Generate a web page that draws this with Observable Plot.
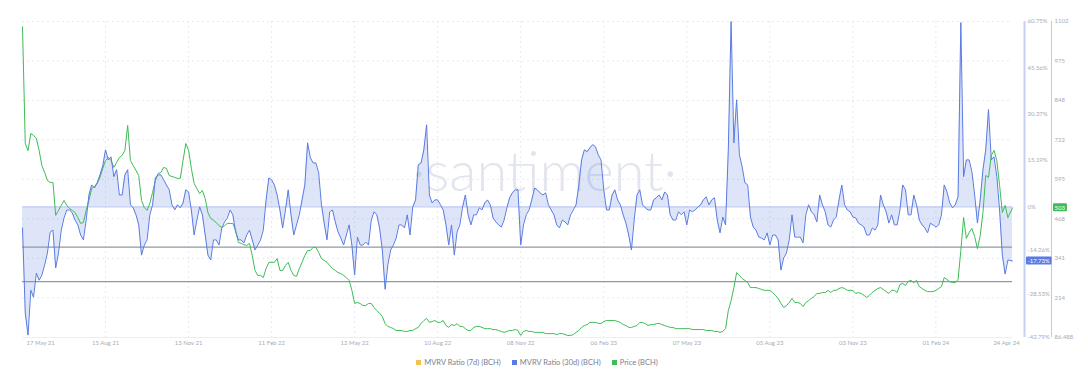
<!DOCTYPE html>
<html>
<head>
<meta charset="utf-8">
<script src="https://cdn.jsdelivr.net/npm/d3@7"></script>
<script src="https://cdn.jsdelivr.net/npm/@observablehq/plot@0.6"></script>
<style>
  body { margin: 0; background: #fff; font-family: Lato, "Open Sans", sans-serif; }
  #legend { display: flex; justify-content: center; align-items: center; gap: 11px; height: 20px;
            font-size: 7.5px; color: #7a8090; margin-left: -14px; }
  .item { display: flex; align-items: center; gap: 3px; }
  .sw { width: 5px; height: 5px; display: inline-block; }
</style>
</head>
<body>
<div id="chart"></div>
<div id="legend"></div>
<script>
const startDate = "2021-05-17";
const endDate = "2024-04-24";
const stepDays = 3;

const mvrv30d = [
  -6.9, -34.8, -42.0, -27.3, -29.6, -21.7, -24.0, -22.3, -19.0, -15.1,
  -8.2, -7.6, -20.0, -15.1, -7.6, -3.6, -1.0, -1.0, -2.0, -4.3,
  -5.9, -9.2, -10.8, -4.3, 3.9, 7.2, 6.2, 7.9, 10.5, 13.5,
  18.7, 15.4, 16.4, 9.9, 12.2, 3.9, 3.9, 10.5, 12.2, 0.7,
  -0.3, -2.6, -5.9, -15.8, -12.5, -10.8, -2.6, 0.7, 9.5, 10.5,
  10.5, 8.9, 7.2, 5.6, 0.7, -1.0, 0.7, -0.3, 1.3, 5.6,
  4.9, -1.0, -9.2, -4.3, 0, -2.6, -9.2, -15.8, -17.4, -10.8,
  -10.8, -12.5, -6.9, -4.9, -3.6, -1.0, -2.6, -8.2, -10.8, -10.8,
  -11.8, -9.2, -7.6, -10.8, -14.1, -12.5, -10.8, -7.6, 2.3, 9.5,
  8.9, 7.2, 3.9, -1.0, -6.9, -1.0, 5.6, -2.6, -9.2, -5.9,
  -2.6, 2.3, 7.2, 21.0, 16.1, 14.4, 14.4, 11.2, 0.7, -5.3,
  -10.8, -1.6, -1.0, -4.9, -8.2, -10.2, -12.5, -9.2, -5.9, -12.5,
  -22.3, -9.9, -12.5, -12.5, -11.5, -12.5, -4.3, -1.6, -2.6, -6.9,
  -14.1, -27.0, -19.0, -14.1, -12.5, -10.2, -5.9, -5.9, -6.9, -2.6,
  -9.2, 0, 2.3, 13.8, 14.4, 18.7, 26.9, 3.9, 1.3, 2.3,
  2.3, 0.7, -1.0, -5.9, -12.5, -5.9, -15.8, -8.2, -5.9, 0,
  3.9, -2.6, -5.9, -2.6, -2.6, -0.3, -1.0, 1.3, 2.3, 0.7,
  -3.6, -4.9, -5.9, -6.6, -4.3, -0.3, 3.0, 4.6, 5.6, 5.6,
  -12.5, -5.9, -2.6, -1.0, 2.3, 6.2, 5.6, 4.6, 3.9, 4.6,
  0.7, -1.0, -2.6, -5.9, -6.9, -4.3, -4.9, -5.9, -2.6, -1.0,
  0.7, 7.2, 15.4, 18.7, 18.1, 19.4, 20.4, 19.7, 17.1, 15.4,
  5.6, -1.0, -1.0, 3.9, 5.6, 2.3, 0.7, -2.6, -5.3, -9.2,
  -14.1, -4.3, 3.9, 5.6, 0.7, -0.3, -1.0, -1.0, 2.3, 3.0,
  3.9, 2.3, 4.9, 3.9, -2.6, -4.3, -4.3, -1.6, -2.6, -1.6,
  -5.9, -1.0, -1.6, -1.0, 0, 0.7, 2.3, 3.3, 0.7, 2.3,
  3.0, -4.3, -8.5, -3.3, -5.9, 18.7, 60.75, 21.0, 35.1, 17.1,
  13.1, 7.9, 7.2, -3.3, -6.6, -7.6, -9.9, -10.2, -10.8, -8.5,
  -12.5, -9.2, -9.2, -10.8, -20.7, -16.7, -15.1, -10.8, -2.6, -9.9,
  -9.9, -9.9, -11.8, -2.6, 0.7, -1.6, -2.6, -4.9, 3.9, 0.7,
  -1.6, -5.9, -6.6, -4.3, -3.3, 2.3, 7.2, 0.7, -1.0, -1.6,
  -3.3, -3.6, -5.3, -5.9, -6.6, -9.2, -9.2, -6.9, -7.6, -5.9,
  3.9, 0.7, -1.6, -5.3, -2.6, -5.9, -5.9, -1.0, 7.2, 5.6,
  -2.6, -2.6, 3.9, 0.7, -4.3, -5.9, -6.9, -8.5, -5.3, -5.9,
  -6.6, -5.9, -2.6, 7.2, 4.9, 1.3, -0.3, 0.7, 3.3, 60.4,
  9.9, 15.4, 15.4, 11.5, 3.9, -5.3, 2.3, 12.2, 18.7, 31.9,
  15.4, 16.4, 9.9, -1.0, -15.8, -22.0, -17.4, -17.73
];

const priceBCH = [
  1085, 710, 687, 742, 736, 726, 688, 639, 617, 591,
  585, 585, 479, 495, 511, 527, 511, 501, 495, 488,
  472, 453, 456, 495, 527, 565, 572, 582, 601, 630,
  655, 665, 655, 633, 649, 665, 672, 688, 768, 655,
  639, 623, 607, 527, 504, 495, 517, 553, 591, 614,
  617, 633, 630, 607, 604, 601, 598, 598, 655, 710,
  688, 630, 582, 565, 549, 559, 533, 488, 469, 463,
  456, 446, 440, 446, 453, 453, 453, 430, 392, 389,
  385, 382, 389, 350, 302, 286, 286, 279, 308, 328,
  328, 328, 340, 302, 302, 318, 328, 302, 286, 283,
  308, 328, 350, 366, 366, 376, 376, 360, 340, 334,
  328, 318, 308, 302, 295, 292, 286, 279, 270, 238,
  196, 199, 196, 189, 189, 196, 196, 183, 173, 164,
  154, 131, 122, 119, 115, 109, 109, 109, 106, 106,
  109, 109, 115, 119, 132, 141, 148, 135, 138, 141,
  135, 135, 141, 125, 119, 128, 125, 131, 122, 122,
  115, 109, 109, 119, 122, 122, 119, 115, 115, 115,
  112, 112, 109, 106, 103, 106, 109, 109, 112, 109,
  93, 106, 109, 106, 106, 103, 103, 103, 103, 99,
  99, 99, 99, 96, 99, 99, 96, 93, 93, 96,
  103, 109, 119, 125, 128, 135, 135, 135, 132, 131,
  138, 141, 141, 141, 141, 138, 135, 128, 125, 119,
  119, 122, 125, 135, 135, 131, 125, 128, 128, 131,
  132, 128, 125, 122, 119, 119, 115, 115, 115, 115,
  115, 115, 112, 112, 112, 112, 112, 109, 109, 109,
  106, 106, 103, 106, 115, 173, 205, 247, 295, 286,
  276, 270, 263, 247, 247, 247, 244, 241, 238, 238,
  238, 231, 222, 212, 196, 183, 189, 199, 212, 199,
  199, 196, 186, 199, 205, 212, 218, 228, 228, 231,
  231, 238, 231, 238, 238, 244, 247, 244, 238, 238,
  238, 228, 231, 228, 222, 215, 222, 231, 238, 244,
  247, 241, 234, 228, 238, 238, 231, 257, 260, 254,
  267, 270, 263, 270, 250, 244, 238, 234, 234, 234,
  238, 244, 250, 279, 273, 266, 263, 263, 273, 366,
  472, 405, 424, 437, 411, 372, 414, 488, 607, 601,
  671, 688, 655, 575, 488, 511, 472, 503
];

const dateTicks = ["2021-05-17", "2021-08-15", "2021-11-13", "2022-02-11", "2022-05-12", "2022-08-10",
  "2022-11-08", "2023-02-06", "2023-05-07", "2023-08-05", "2023-11-03", "2024-02-01", "2024-04-24"];
const dateTickLabels = ["17 May 21", "15 Aug 21", "13 Nov 21", "11 Feb 22", "12 May 22", "10 Aug 22",
  "08 Nov 22", "06 Feb 23", "07 May 23", "05 Aug 23", "03 Nov 23", "01 Feb 24", "24 Apr 24"];

const mvrvTicks = [60.75, 45.56, 30.37, 15.19, 0, -14.26, -28.53, -42.79];
const priceTicks = [86.488, 214, 341, 468, 595, 722, 848, 975, 1102];
const priceTickLabels = ["86.488", "214", "341", "468", "595", "722", "848", "975", "1102"];

const refLevels = [-13.2, -24.5];   // two horizontal reference lines (MVRV %)
const lastMvrvLabel = "-17.73%";
const lastPriceLabel = "503";

// ---- colours ----
const blue = "#5a7be2", green = "#3dbd55", yellow = "#f3c14c";

// ---- build ----
const start = new Date(startDate), end = new Date(endDate);
const n = mvrv30d.length;
const dates = d3.range(n).map(i => i === n - 1 ? end : d3.utcDay.offset(start, stepDays * i));
const rows = dates.map((date, i) => ({date, mvrv: mvrv30d[i], price: priceBCH[i]}));

const mvrvMin = d3.min(mvrvTicks), mvrvMax = d3.max(mvrvTicks);
const priceMin = d3.min(priceTicks), priceMax = d3.max(priceTicks);
// second (price) axis is mapped into the MVRV y scale
const toY = d3.scaleLinear().domain([priceMin, priceMax]).range([mvrvMin, mvrvMax]);

const tickDates = dateTicks.map(d => new Date(d));
const lbl = "#a6acb8";

const plot = Plot.plot({
  width: 1088,
  height: 352,
  marginLeft: 22,
  marginRight: 76,
  marginTop: 21,
  marginBottom: 15,
  x: {type: "utc", domain: [start, end], axis: null},
  y: {domain: [mvrvMin, mvrvMax], axis: null},
  style: {fontFamily: "Lato, 'Open Sans', sans-serif", fontSize: "6px", background: "white", overflow: "visible"},
  marks: [
    Plot.ruleY(priceTicks.slice(1), {y: d => toY(d), stroke: "#e6e9ef", strokeDasharray: "2,3"}),
    Plot.ruleX(tickDates.slice(1, -1), {stroke: "#e6e9ef", strokeDasharray: "2,3"}),
    Plot.text(["\u00b7santiment\u00b7"], {frameAnchor: "middle", dx: 27, dy: -6, fontSize: 56,
      fontWeight: 300, fill: "#e2e5ed"}),
    Plot.ruleY([mvrvMin], {stroke: "#eceef2"}),
    Plot.areaY(rows, {x: "date", y1: 0, y2: "mvrv", fill: blue, fillOpacity: 0.2}),
    Plot.ruleY([0], {stroke: "#b6c3f1"}),
    Plot.ruleY(refLevels, {stroke: "#9097a6", strokeWidth: 1.2}),
    Plot.lineY(rows, {x: "date", y: d => toY(d.price), stroke: green, strokeWidth: 1}),
    Plot.lineY(rows, {x: "date", y: "mvrv", stroke: blue, strokeWidth: 1}),
    // axis lines on the right
    Plot.ruleX([end], {dx: 12, stroke: "#c6d0f3", strokeWidth: 2}),
    Plot.ruleX([end], {dx: 39, stroke: "#a8dfb4", strokeWidth: 1}),
    // x labels
    Plot.text([0], {x: i => tickDates[i], text: i => dateTickLabels[i], frameAnchor: "bottom",
      lineAnchor: "top", dy: 3, dx: 4, textAnchor: "start", fill: lbl}),
    Plot.text(d3.range(1, tickDates.length - 1), {x: i => tickDates[i], text: i => dateTickLabels[i],
      frameAnchor: "bottom", lineAnchor: "top", dy: 3, fill: lbl}),
    Plot.text([tickDates.length - 1], {x: i => tickDates[i], text: i => dateTickLabels[i],
      frameAnchor: "bottom", lineAnchor: "top", dy: 3, dx: -6, fill: lbl}),
    // MVRV axis labels
    Plot.text(mvrvTicks, {y: d => d, text: d => d + "%", frameAnchor: "right", dx: 15,
      textAnchor: "start", fill: lbl}),
    // price axis labels
    Plot.text(d3.range(priceTicks.length), {y: i => toY(priceTicks[i]), text: i => priceTickLabels[i],
      frameAnchor: "right", dx: 42, textAnchor: "start", fill: lbl}),
    // last-value badges
    Plot.text([mvrv30d[n - 1]], {y: d => d, text: () => lastMvrvLabel, frameAnchor: "right", dx: 15,
      textAnchor: "start", fill: "white"}),
    Plot.text([priceBCH[n - 1]], {y: d => toY(d), text: () => lastPriceLabel, frameAnchor: "right", dx: 42,
      textAnchor: "start", fill: "white"})
  ]
});

document.getElementById("chart").append(plot);

// coloured boxes behind the two last-value badges
const badgeColors = new Map([[lastMvrvLabel, blue], [lastPriceLabel, green]]);
d3.select(plot).selectAll("text").filter(function () {
  return badgeColors.has(this.textContent) && this.parentNode.getAttribute("fill") === "white";
}).each(function () {
  const b = this.getBBox();
  const r = d3.select(this.parentNode).insert("rect", "text")
    .attr("x", b.x - 1.5).attr("y", b.y - 0.5)
    .attr("width", b.width + 3).attr("height", b.height + 1)
    .attr("fill", badgeColors.get(this.textContent)).attr("rx", 1);
  const t = this.getAttribute("transform");
  if (t) r.attr("transform", t);
});

// legend
const legendItems = [
  ["MVRV Ratio (7d) (BCH)", yellow],
  ["MVRV Ratio (30d) (BCH)", blue],
  ["Price (BCH)", green]
];
const legend = d3.select("#legend");
for (const [name, color] of legendItems) {
  const it = legend.append("div").attr("class", "item");
  it.append("span").attr("class", "sw").style("background", color);
  it.append("span").text(name);
}
</script>
</body>
</html>
